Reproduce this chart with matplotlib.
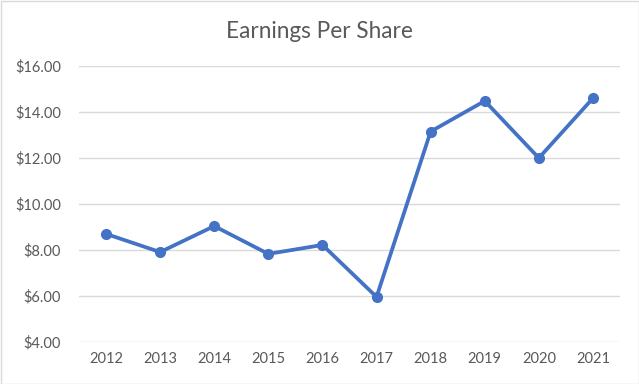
import matplotlib
matplotlib.use("Agg")
import matplotlib.pyplot as plt
from matplotlib.patches import Rectangle

years = ["2012", "2013", "2014", "2015", "2016", "2017", "2018", "2019", "2020", "2021"]
eps = [8.70, 7.91, 9.04, 7.83, 8.22, 5.96, 13.15, 14.48, 12.00, 14.60]
yticks = [4, 6, 8, 10, 12, 14, 16]
ytick_labels = ["$4.00", "$6.00", "$8.00", "$10.00", "$12.00", "$14.00", "$16.00"]

plt.rcParams['font.family'] = ['Lato', 'DejaVu Sans']

fig = plt.figure(figsize=(6.39, 3.84), dpi=100)
ax = fig.add_axes([79/639, 1-342/384, (620-79)/639, (342-66)/384])

x = list(range(len(years)))
ax.plot(x, eps, color="#4472C4", lw=2.7, marker="o", markersize=7, solid_capstyle="round", solid_joinstyle="round")

ax.set_xlim(-0.5, len(years) - 0.5)
ax.set_ylim(4, 16)
ax.set_yticks(yticks)
ax.set_yticklabels(ytick_labels)
ax.set_xticks(x)
ax.set_xticklabels(years)
ax.yaxis.grid(True, color="#D9D9D9", lw=1)
ax.set_axisbelow(True)
for s in ax.spines.values():
    s.set_visible(False)
ax.tick_params(axis="both", length=0, colors="#595959", labelsize=10.5)
ax.tick_params(axis="y", pad=13)
ax.tick_params(axis="x", pad=7)

fig.text(0.5, 1-32/384, "Earnings Per Share", ha="center", va="center", fontsize=16.3, color="#595959")
fig.patches.append(Rectangle((0.5/639, 0.5/384), 1-1/639, 1-1/384, transform=fig.transFigure,
                             fill=False, edgecolor="#D9D9D9", lw=1))

fig.savefig("out.png", dpi=100)
